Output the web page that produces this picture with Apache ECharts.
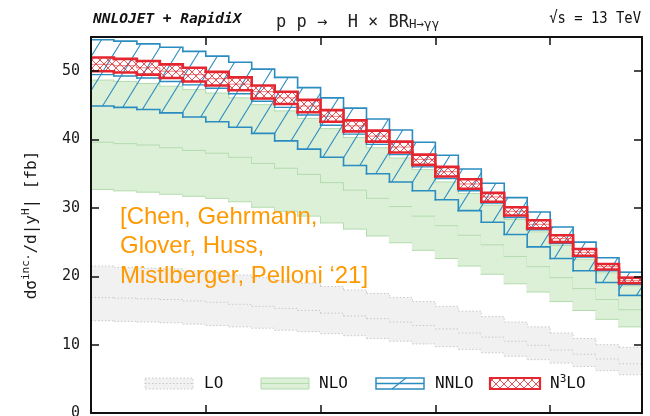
<!DOCTYPE html>
<html>
<head>
<meta charset="utf-8">
<script src="https://cdn.jsdelivr.net/npm/echarts@6/dist/echarts.min.js"></script>
<style>
  html, body { margin: 0; padding: 0; background: #ffffff; }
  #chart { width: 650px; height: 416px; }
</style>
</head>
<body>
<div id="chart"></div>
<script>
// Rapidity bins |y^H| (bin edges)
const binEdges = [0, 0.1, 0.2, 0.3, 0.4, 0.5, 0.6, 0.7, 0.8, 0.9, 1.0, 1.1, 1.2,
                  1.3, 1.4, 1.5, 1.6, 1.7, 1.8, 1.9, 2.0, 2.1, 2.2, 2.3, 2.4];

// dσ/d|y^H| [fb]: scale-variation band (low / central / high) per order
const loLow      = [13.5, 13.4, 13.3, 13.2, 13.0, 12.8, 12.6, 12.4, 12.1, 11.9, 11.6, 11.3, 10.9, 10.5, 10.1, 9.7, 9.3, 8.8, 8.3, 7.8, 7.3, 6.8, 6.2, 5.6];
const loCentral  = [16.9, 16.8, 16.7, 16.6, 16.4, 16.2, 15.9, 15.6, 15.3, 15.0, 14.6, 14.2, 13.8, 13.3, 12.8, 12.3, 11.7, 11.1, 10.5, 9.9, 9.2, 8.6, 7.9, 7.2];
const loHigh     = [21.5, 21.3, 21.2, 21.1, 20.8, 20.6, 20.2, 19.8, 19.4, 19.0, 18.5, 18.0, 17.5, 16.9, 16.3, 15.6, 14.9, 14.1, 13.3, 12.6, 11.7, 10.9, 10.0, 9.6];

const nloLow     = [32.7, 32.5, 32.3, 32.0, 31.7, 31.4, 30.9, 30.1, 29.5, 28.8, 27.8, 26.9, 25.9, 24.9, 23.8, 22.6, 21.5, 20.3, 18.9, 17.7, 16.3, 15.0, 13.7, 12.6];
const nloCentral = [39.6, 39.4, 39.2, 38.8, 38.4, 38.0, 37.4, 36.5, 35.8, 34.9, 33.7, 32.6, 31.4, 30.2, 28.8, 27.4, 26.0, 24.6, 22.9, 21.4, 19.8, 18.2, 16.6, 15.1];
const nloHigh    = [48.7, 48.5, 48.2, 47.8, 47.3, 46.8, 46.1, 45.1, 44.2, 43.1, 41.6, 40.3, 38.8, 37.3, 35.6, 33.8, 32.1, 30.4, 28.3, 26.5, 24.5, 22.5, 20.5, 18.6];

const nnloLow     = [44.9, 44.7, 44.4, 43.9, 43.3, 42.6, 41.8, 40.9, 39.8, 38.6, 37.4, 36.2, 35.0, 33.8, 32.5, 31.2, 29.6, 27.9, 26.1, 24.3, 22.6, 20.8, 19.1, 17.2];
const nnloCentral = [49.5, 49.3, 49.0, 48.5, 48.0, 47.5, 46.7, 45.6, 44.7, 43.6, 42.1, 40.8, 39.3, 37.8, 36.0, 34.3, 32.5, 30.7, 28.6, 26.8, 24.8, 22.8, 20.8, 18.8];
const nnloHigh    = [54.6, 54.4, 54.0, 53.5, 52.9, 52.2, 51.3, 50.3, 49.1, 47.6, 46.1, 44.6, 43.0, 41.4, 39.6, 37.7, 35.7, 33.6, 31.5, 29.4, 27.2, 25.0, 22.7, 20.6];

const n3loLow     = [50.0, 49.8, 49.5, 49.0, 48.5, 47.9, 47.2, 46.0, 45.2, 44.0, 42.6, 41.2, 39.7, 38.1, 36.3, 34.6, 32.8, 30.9, 28.9, 27.0, 25.0, 23.0, 21.0, 19.0];
const n3loCentral = [51.0, 50.8, 50.5, 50.0, 49.5, 48.9, 48.1, 47.0, 46.1, 44.9, 43.4, 42.0, 40.5, 38.9, 37.1, 35.3, 33.5, 31.6, 29.5, 27.6, 25.5, 23.5, 21.4, 19.4];
const n3loHigh    = [52.0, 51.8, 51.5, 51.0, 50.5, 49.9, 49.1, 47.9, 47.0, 45.8, 44.3, 42.8, 41.3, 39.7, 37.8, 36.0, 34.2, 32.2, 30.1, 28.2, 26.0, 24.0, 21.8, 19.8];

// Axis ticks
const yTicks = { min: 0, max: 55, interval: 10 };
const xTicks = { min: 0, max: 2.4, interval: 0.5 };

const MONO = "'DejaVu Sans Mono', 'Liberation Mono', monospace";
const BLUE = '#2b8cc0';
const RED = '#e3262f';
const GREEN_FILL = '#dcf0d8';
const GREEN_LINE = '#b3dbad';
const GREY_FILL = '#f1f1f1';
const GREY_LINE = '#c8c8c8';

// --- fill patterns ---------------------------------------------------------
function makeTile(w, h, draw) {
  const c = document.createElement('canvas');
  c.width = w; c.height = h;
  const ctx = c.getContext('2d');
  draw(ctx, w, h);
  return c;
}
// single "/" hatch for NNLO
const hatchTile = makeTile(21, 34, (ctx, w, h) => {
  ctx.strokeStyle = BLUE;
  ctx.lineWidth = 1.1;
  for (const dx of [-w, 0, w]) {
    for (const dy of [-h, 0, h]) {
      ctx.beginPath();
      ctx.moveTo(dx, h + dy);
      ctx.lineTo(w + dx, dy);
      ctx.stroke();
    }
  }
});
// cross hatch for N3LO
const crossTile = makeTile(8, 8, (ctx, w, h) => {
  ctx.strokeStyle = RED;
  ctx.lineWidth = 0.8;
  for (const dx of [-w, 0, w]) {
    ctx.beginPath(); ctx.moveTo(dx, 0); ctx.lineTo(dx + w, h); ctx.stroke();
    ctx.beginPath(); ctx.moveTo(dx, h); ctx.lineTo(dx + w, 0); ctx.stroke();
  }
});
const hatchFill = { image: hatchTile, repeat: 'repeat' };
const crossFill = { image: crossTile, repeat: 'repeat' };

// --- stepped band drawn bin by bin -----------------------------------------
function bandSeries(name, low, mid, high, look) {
  return {
    type: 'custom',
    name: name,
    clip: true,
    z: look.z,
    data: low.map((v, i) => [binEdges[i], binEdges[i + 1], low[i], mid[i], high[i]]),
    renderItem(params, api) {
      const i = params.dataIndex;
      const x0 = api.value(0), x1 = api.value(1);
      const lo = api.value(2), c = api.value(3), hi = api.value(4);
      const last = i === low.length - 1;
      const pA = api.coord([x0, hi]);
      const pB = api.coord([x1, lo]);
      const left = Math.round(pA[0]), right = Math.round(pB[0]);
      const children = [{
        type: 'rect',
        silent: true,
        shape: { x: left, y: pA[1], width: right - left, height: pB[1] - pA[1] },
        style: { fill: look.fill, stroke: null }
      }];
      const edge = (v, arr, style) => {
        const pts = [api.coord([x0, v]), api.coord([x1, v])];
        if (!last) pts.push(api.coord([x1, arr[i + 1]]));
        children.push({
          type: 'polyline',
          silent: true,
          shape: { points: pts },
          style: Object.assign({ fill: null }, style)
        });
      };
      edge(c, mid, look.mid);
      edge(lo, low, look.edge);
      edge(hi, high, look.edge);
      return { type: 'group', children: children };
    }
  };
}

const dotted = { stroke: GREY_LINE, lineWidth: 1, lineDash: [1.5, 2], lineCap: 'butt' };

const series = [
  bandSeries('LO', loLow, loCentral, loHigh, {
    z: 2, fill: GREY_FILL, edge: dotted, mid: dotted
  }),
  bandSeries('NLO', nloLow, nloCentral, nloHigh, {
    z: 3, fill: GREEN_FILL,
    edge: { stroke: GREEN_LINE, lineWidth: 1, lineCap: 'square' },
    mid: { stroke: GREEN_LINE, lineWidth: 1, lineCap: 'square' }
  }),
  bandSeries('NNLO', nnloLow, nnloCentral, nnloHigh, {
    z: 4, fill: hatchFill,
    edge: { stroke: BLUE, lineWidth: 1.6, lineCap: 'square' },
    mid: { stroke: BLUE, lineWidth: 1.4, lineCap: 'square' }
  }),
  bandSeries('N3LO', n3loLow, n3loCentral, n3loHigh, {
    z: 5, fill: crossFill,
    edge: { stroke: RED, lineWidth: 2.6, lineCap: 'square' },
    mid: { stroke: RED, lineWidth: 1, lineCap: 'square', opacity: 0.6 }
  })
];

// --- axes (framed box with inward ticks) ------------------------------------
function frameAxis(extra) {
  return Object.assign({
    type: 'value',
    z: 10,
    axisLine: { show: true, onZero: false, lineStyle: { color: '#111', width: 2 } },
    axisTick: { show: true, inside: true, length: 8, lineStyle: { color: '#111', width: 1.5 } },
    splitLine: { show: false },
    axisLabel: { show: false }
  }, extra);
}

const option = {
  animation: false,
  backgroundColor: '#ffffff',
  grid: { left: 91, right: 8, top: 37, bottom: 3, containLabel: false, outerBoundsMode: 'none' },
  xAxis: [
    frameAxis({ position: 'bottom', min: xTicks.min, max: xTicks.max, interval: xTicks.interval }),
    frameAxis({ position: 'top', min: xTicks.min, max: xTicks.max, interval: xTicks.interval })
  ],
  yAxis: [
    frameAxis({
      position: 'left', min: yTicks.min, max: yTicks.max, interval: yTicks.interval,
      axisLabel: { show: true, showMaxLabel: false, margin: 11, fontFamily: MONO, fontSize: 15, color: '#1a1a1a' },
      name: '{t|dσ}{s|inc.}{t|/d|y}{s|H}{t|| [fb]}',
      nameLocation: 'middle',
      nameRotate: 90,
      nameGap: 48,
      nameTextStyle: {
        fontFamily: MONO, fontSize: 16, color: '#1a1a1a',
        rich: {
          t: { fontFamily: MONO, fontSize: 16, lineHeight: 22, color: '#1a1a1a' },
          s: { fontFamily: MONO, fontSize: 11, lineHeight: 12, verticalAlign: 'top', color: '#1a1a1a' }
        }
      }
    }),
    frameAxis({ position: 'right', min: yTicks.min, max: yTicks.max, interval: yTicks.interval })
  ],
  series: series,
  graphic: { elements: [
    // header
    { type: 'text', x: 93, y: 19, z: 20,
      style: { text: 'NNLOJET + RapidiX', fontFamily: MONO, fontSize: 14.5, fontWeight: 'bold', fontStyle: 'italic',
               fill: '#111', textAlign: 'left', textVerticalAlign: 'middle' } },
    { type: 'text', x: 276, y: 19, z: 20,
      style: { text: '{a|p p →  H × BR}{b|H→γγ}', fill: '#222', textAlign: 'left', textVerticalAlign: 'middle',
               rich: { a: { fontFamily: MONO, fontSize: 17, lineHeight: 24, verticalAlign: 'bottom', fill: '#222' },
                       b: { fontFamily: MONO, fontSize: 12.5, lineHeight: 14, verticalAlign: 'bottom', fill: '#222' } } } },
    { type: 'text', x: 641, y: 19, z: 20, scaleX: 0.84,
      style: { text: '√s = 13 TeV', fontFamily: MONO, fontSize: 16.5, fill: '#111',
               textAlign: 'right', textVerticalAlign: 'middle' } },
    // citation
    { type: 'text', x: 120, y: 217, z: 20,
      style: { text: '[Chen, Gehrmann,', fontFamily: "'Liberation Sans', Arial, sans-serif", fontSize: 24,
               fill: '#ff9900', textAlign: 'left', textVerticalAlign: 'middle' } },
    { type: 'text', x: 120, y: 246.5, z: 20,
      style: { text: 'Glover, Huss,', fontFamily: "'Liberation Sans', Arial, sans-serif", fontSize: 24,
               fill: '#ff9900', textAlign: 'left', textVerticalAlign: 'middle' } },
    { type: 'text', x: 120, y: 276, z: 20,
      style: { text: 'Mistlberger, Pelloni ‘21]', fontFamily: "'Liberation Sans', Arial, sans-serif", fontSize: 24,
               fill: '#ff9900', textAlign: 'left', textVerticalAlign: 'middle' } },
    // legend keys
    { type: 'rect', z: 20, shape: { x: 145, y: 378, width: 48, height: 11 },
      style: { fill: GREY_FILL, stroke: GREY_LINE, lineWidth: 1, lineDash: [1.5, 2] } },
    { type: 'line', z: 20, shape: { x1: 145, y1: 383.5, x2: 193, y2: 383.5 },
      style: { stroke: GREY_LINE, lineWidth: 1, lineDash: [1.5, 2] } },
    { type: 'text', x: 204, y: 384, z: 20,
      style: { text: 'LO', fontFamily: MONO, fontSize: 16, fill: '#111', textVerticalAlign: 'middle' } },

    { type: 'rect', z: 20, shape: { x: 261, y: 378, width: 48, height: 11 },
      style: { fill: GREEN_FILL, stroke: GREEN_LINE, lineWidth: 1 } },
    { type: 'line', z: 20, shape: { x1: 261, y1: 383.5, x2: 309, y2: 383.5 },
      style: { stroke: GREEN_LINE, lineWidth: 1 } },
    { type: 'text', x: 319, y: 384, z: 20,
      style: { text: 'NLO', fontFamily: MONO, fontSize: 16, fill: '#111', textVerticalAlign: 'middle' } },

    { type: 'rect', z: 20, shape: { x: 376, y: 378, width: 48, height: 11 },
      style: { fill: '#ffffff', stroke: BLUE, lineWidth: 1.5 } },
    { type: 'line', z: 20, shape: { x1: 376, y1: 383.5, x2: 424, y2: 383.5 },
      style: { stroke: BLUE, lineWidth: 1.3 } },
    { type: 'line', z: 20, shape: { x1: 392, y1: 389, x2: 406, y2: 378 },
      style: { stroke: BLUE, lineWidth: 1.1 } },
    { type: 'text', x: 435, y: 384, z: 20,
      style: { text: 'NNLO', fontFamily: MONO, fontSize: 16, fill: '#111', textVerticalAlign: 'middle' } },

    { type: 'rect', z: 20, shape: { x: 490, y: 378, width: 50, height: 11 },
      style: { fill: crossFill, stroke: RED, lineWidth: 2.2 } },
    { type: 'text', x: 550, y: 384, z: 20,
      style: { text: '{a|N}{s|3}{a|LO}', textVerticalAlign: 'middle',
               rich: { a: { fontFamily: MONO, fontSize: 16, lineHeight: 20, fill: '#111' },
                       s: { fontFamily: MONO, fontSize: 11, lineHeight: 12, verticalAlign: 'top', fill: '#111' } } } }
  ] }
};

const chart = echarts.init(document.getElementById('chart'), null, { renderer: 'canvas' });
chart.setOption(option);
</script>
</body>
</html>
